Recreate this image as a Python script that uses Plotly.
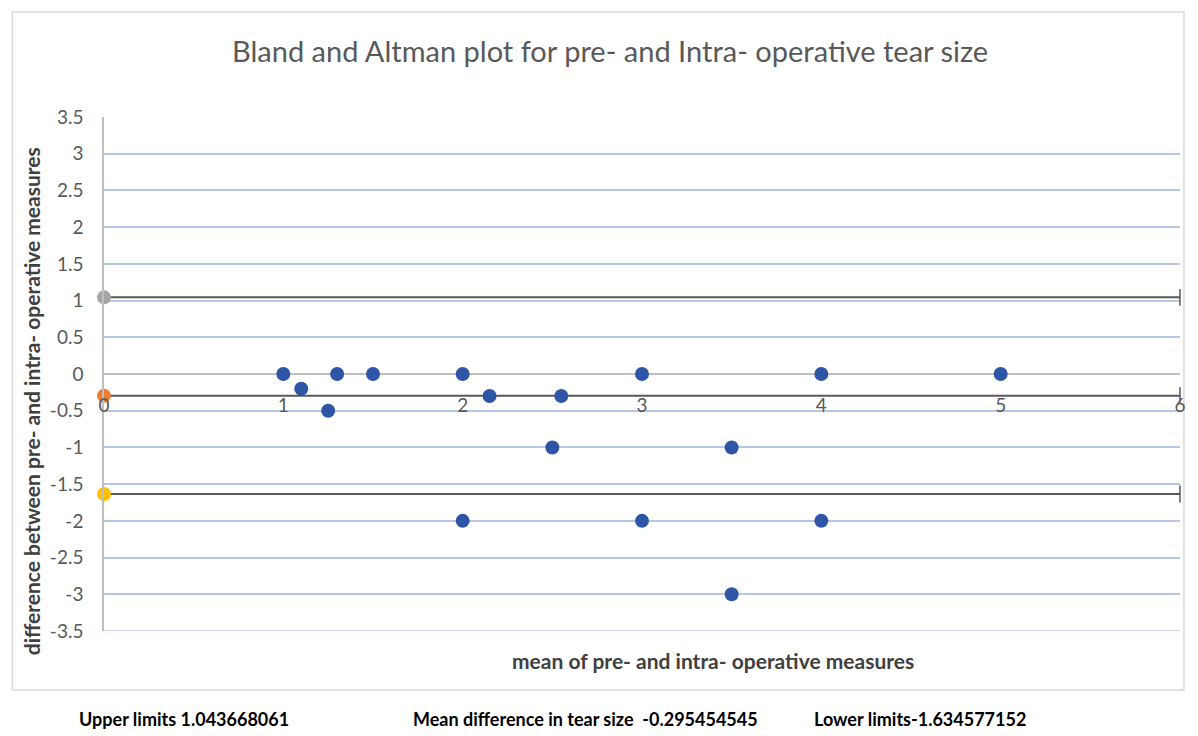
import plotly.graph_objects as go

# Data points (mean of measures, difference)
mean_vals = [1, 1.1, 1.25, 1.3, 1.5, 2, 2.15, 2.5, 2.55, 3, 3.5, 4, 5, 2, 3, 3.5, 4]
diff_vals = [0, -0.2, -0.5, 0, 0, 0, -0.3, -1, -0.3, 0, -1, 0, 0, -2, -2, -3, -2]

upper_limit = 1.043668061
mean_diff = -0.295454545
lower_limit = -1.634577152
line_x = [0, 6]

x_ticks = [0, 1, 2, 3, 4, 5, 6]
y_ticks = [-3.5, -3, -2.5, -2, -1.5, -1, -0.5, 0, 0.5, 1, 1.5, 2, 2.5, 3, 3.5]
y_tick_labels = ["-3.5", "-3", "-2.5", "-2", "-1.5", "-1", "-0.5", "0", "0.5", "1", "1.5", "2", "2.5", "3", "3.5"]

title_text = "Bland and Altman plot for pre- and Intra- operative tear size"
x_title = "mean of pre- and intra- operative measures"
y_title = "difference between pre- and intra- operative measures"
footer = ["Upper limits 1.043668061", "Mean difference in tear size  -0.295454545", "Lower limits-1.634577152"]

OFF = 8  # page body margin
W, H = 1198 - OFF, 736 - OFF
L, R, T, B = 104 - OFF, 14, 117 - OFF, 105
pw, ph = W - L - R, H - T - B

def px(xp):
    return (xp - OFF - L) / pw

def py(yp):
    return (H - B - (yp - OFF)) / ph

FONT = "Lato, Open Sans, sans-serif"
DARK = "#595959"

fig = go.Figure()

# bottom gridline at axis minimum
fig.add_hline(y=y_ticks[0], line=dict(color="#b4c7e7", width=1.5), layer="below")

# limit lines
for val, mcol in [(upper_limit, "#a5a5a5"), (mean_diff, "#ed7d31"), (lower_limit, "#ffc000")]:
    fig.add_trace(go.Scatter(x=line_x, y=[val, val], mode="lines",
                             line=dict(color=DARK, width=2), hoverinfo="skip", showlegend=False))
    fig.add_trace(go.Scatter(x=[line_x[0]], y=[val], mode="markers", cliponaxis=False,
                             marker=dict(color=mcol, size=14), showlegend=False))
    fig.add_trace(go.Scatter(x=[line_x[1]], y=[val], mode="markers", cliponaxis=False,
                             marker=dict(symbol="line-ns", size=12, line=dict(color=DARK, width=1.5)),
                             showlegend=False))

fig.add_trace(go.Scatter(x=mean_vals, y=diff_vals, mode="markers", cliponaxis=False,
                         marker=dict(color="#2f56a6", size=14), showlegend=False))

fig.update_layout(
    width=W, height=H,
    margin=dict(l=L, r=R, t=T, b=B),
    paper_bgcolor="white", plot_bgcolor="white",
    font=dict(family=FONT, color=DARK),
    showlegend=False,
    xaxis=dict(range=[0, 6], tickvals=x_ticks, showgrid=False, zeroline=False, showline=False,
               anchor="free", position=(mean_diff + 3.5) / 7, ticks="",
               tickfont=dict(size=19, color=DARK, family=FONT), ticklabelstandoff=-4),
    yaxis=dict(range=[-3.5, 3.5], tickvals=y_ticks, ticktext=y_tick_labels,
               showgrid=True, gridcolor="#b4c7e7", gridwidth=1.5,
               zeroline=True, zerolinecolor="#bfbfbf", zerolinewidth=2,
               showline=True, linecolor="#bfbfbf", linewidth=1.5, ticks="",
               tickfont=dict(size=19, color=DARK, family=FONT), ticklabelstandoff=15),
)

annotations = [
    dict(text=title_text, x=px(612), y=py(50), xref="paper", yref="paper", showarrow=False,
         xanchor="center", yanchor="middle", font=dict(size=29, color=DARK, family=FONT)),
    dict(text="<b>" + x_title + "</b>", x=px(715), y=py(660), xref="paper", yref="paper", showarrow=False,
         xanchor="center", yanchor="middle", font=dict(size=21, color="#404040", family=FONT)),
    dict(text="<b>" + y_title + "</b>", x=px(31), y=py(401), xref="paper", yref="paper", showarrow=False,
         textangle=-90, xanchor="center", yanchor="middle", font=dict(size=21, color="#404040", family=FONT)),
]
for txt, xl, anc in zip(footer, [77, 762, 815], ["left", "right", "left"]):
    annotations.append(dict(text="<b>" + txt + "</b>", x=px(xl), y=py(719), xref="paper", yref="paper",
                            showarrow=False, xanchor=anc, yanchor="middle",
                            font=dict(size=18, color="black", family="Liberation Sans Narrow, Lato, sans-serif")))
fig.update_layout(annotations=annotations)

fig.add_shape(type="rect", xref="paper", yref="paper",
              x0=px(12), x1=px(1188), y0=py(690), y1=py(12),
              line=dict(color="#d9d9d9", width=1.5), fillcolor="rgba(0,0,0,0)", layer="below")

fig.write_html("out.html")
